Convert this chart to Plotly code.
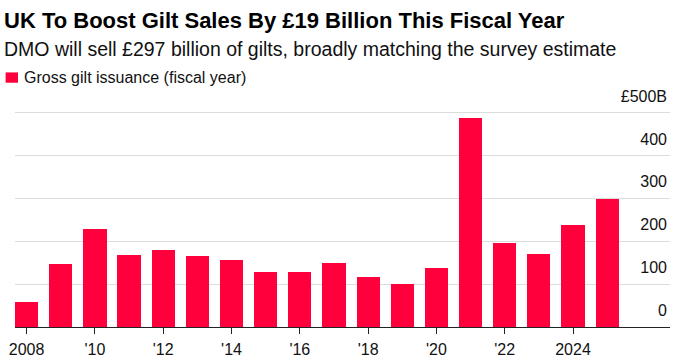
import plotly.graph_objects as go

years = list(range(2008, 2026))
issuance = [59, 147, 228, 167, 180, 166, 155, 127, 128, 148, 117, 100, 138, 486, 195, 170, 238, 297]

x_tickvals = [2008, 2010, 2012, 2014, 2016, 2018, 2020, 2022, 2024]
x_ticktext = ["2008", "'10", "'12", "'14", "'16", "'18", "'20", "'22", "2024"]
y_tickvals = [0, 100, 200, 300, 400, 500]
y_ticktext = ["0", "100", "200", "300", "400", "£500B"]

title = "UK To Boost Gilt Sales By £19 Billion This Fiscal Year"
subtitle = "DMO will sell £297 billion of gilts, broadly matching the survey estimate"
legend_label = "Gross gilt issuance (fiscal year)"

RED = "#FF003C"
FONT = "Liberation Sans, Arial, sans-serif"

fig = go.Figure()
fig.add_trace(go.Bar(x=years, y=issuance, marker=dict(color=RED, line=dict(width=0)),
                     width=0.68, name=legend_label, showlegend=False))

W, H = 695, 362
ml, mr, mt, mb = 14.7, 25, 110.2, 35.3
ph = H - mt - mb

def py(Y):
    return (H - mb - Y) / ph

def px(X):
    return (X - ml) / (W - ml - mr)

fig.update_layout(
    width=W, height=H,
    margin=dict(l=ml, r=mr, t=mt, b=mb, pad=0, autoexpand=False),
    paper_bgcolor="white", plot_bgcolor="white",
    font=dict(family=FONT, color="#111111"),
    bargap=0,
    xaxis=dict(range=[2007.66, 2026.84], tickvals=x_tickvals, ticktext=x_ticktext,
               ticks="outside", ticklen=6, tickcolor="#222", tickwidth=1,
               ticklabelstandoff=2, automargin=False,
               showline=True, linecolor="#222", linewidth=1, showgrid=False,
               zeroline=False, tickfont=dict(size=16, color="#111"), fixedrange=True),
    yaxis=dict(range=[0, 505], side="right", tickvals=y_tickvals, ticktext=y_ticktext,
               ticklabelposition="inside top", ticklabeloverflow="allow",
               ticklabelshift=-5, automargin=False, showgrid=True, gridcolor="#dcdcdc",
               gridwidth=1, zeroline=False, ticks="", showline=False,
               tickfont=dict(size=16, color="#111"), fixedrange=True),
    annotations=[
        dict(text="<b>" + title + "</b>", xref="paper", yref="paper", x=px(2), y=py(20.5),
             xanchor="left", yanchor="middle", showarrow=False,
             font=dict(size=22, family=FONT, color="#000")),
        dict(text=subtitle, xref="paper", yref="paper", x=px(2), y=py(49),
             xanchor="left", yanchor="middle", showarrow=False,
             font=dict(size=19.5, family=FONT, color="#111")),
        dict(text=legend_label, xref="paper", yref="paper", x=px(22), y=py(77.5),
             xanchor="left", yanchor="middle", showarrow=False,
             font=dict(size=16, family=FONT, color="#111")),
    ],
    shapes=[
        dict(type="rect", xref="paper", yref="paper", x0=px(5.3), x1=px(17.7),
             y0=py(83), y1=py(72.7), fillcolor=RED, line=dict(width=0)),
    ],
)

fig.write_html("out.html", config={"displayModeBar": False},
               post_script="document.body.style.margin='0';")
